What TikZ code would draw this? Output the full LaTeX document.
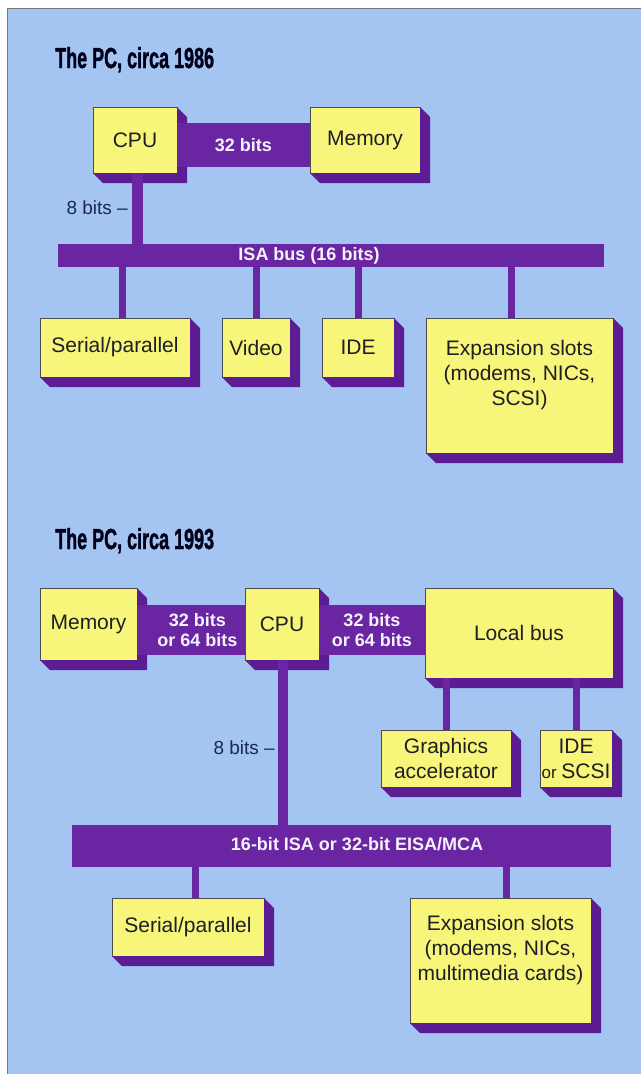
\documentclass[tikz,border=0pt]{standalone}
\usepackage{fontspec}
\setmainfont{Liberation Sans}
\newfontfamily\titlefont[FakeBold=1.6,UprightFont=* Bold]{Liberation Sans}
\usetikzlibrary{positioning}

\definecolor{panelblue}{RGB}{164,197,242}
\definecolor{chipyellow}{RGB}{248,246,122}
\definecolor{buspurple}{RGB}{106,38,162}
\definecolor{shadepurple}{RGB}{92,28,148}
\definecolor{inkdark}{RGB}{30,30,36}
\definecolor{notenavy}{RGB}{26,40,84}
\definecolor{buslabel}{RGB}{246,242,252}

\newcommand{\pcsize}{\fontsize{21}{25}\selectfont}
\newcommand{\bussize}{\fontsize{18}{20}\selectfont\bfseries}
\newcommand{\pctitle}[1]{\scalebox{0.62}[1]{\fontsize{29}{32}\titlefont #1}}

\begin{document}
\begin{tikzpicture}[x=1pt,y=-1pt,
        chip/.style={draw=inkdark!80,line width=0.6pt,fill=chipyellow,inner sep=0pt,outer sep=0pt,anchor=north west,align=center,font=\pcsize,text=inkdark},
        bus/.style={fill=buspurple,inner sep=0pt,outer sep=0pt,anchor=north west},
        buslbl/.style={font=\bussize,text=buslabel,inner sep=0pt,align=center},
        wire/.style={draw=buspurple,line width=7pt},
        note/.style={font=\fontsize{19}{21}\selectfont,text=notenavy,inner sep=0pt,anchor=east},
        heading/.style={inner sep=0pt,anchor=base west,text=black!90!blue}]
        \useasboundingbox (0,0) rectangle (641,1074);
        \fill[white] (0,0) rectangle (641,1074);
        \fill[panelblue] (7,8) rectangle (641,1074);
        \draw[inkdark!60,line width=1pt] (7,1074) -- (7,8) -- (641,8);

        % circa 1986
        \node[heading] (title86) at (55,68) {\pctitle{The PC, circa 1986}};
        \node[chip,minimum width=84pt,minimum height=66pt] (cpu86) at (93,107) {CPU};
        \node[chip,minimum width=110pt,minimum height=66pt] (mem86) at (310,107) {Memory};
        \node[bus,minimum width=546pt,minimum height=23pt] (isa) at (58,244) {};
        \node[buslbl] (isalbl) at (309,255.5) {ISA bus (16 bits)};
        \node[chip,minimum width=150pt,minimum height=59pt] (serial86) at (40,318) {Serial/parallel};
        \node[chip,minimum width=68pt,minimum height=59pt] (video86) at (222,318) {Video};
        \node[chip,minimum width=72pt,minimum height=59pt] (ide86) at (322,318) {IDE};
        \node[chip,minimum width=187pt,minimum height=135pt] (exp86) at (426,318) {Expansion slots\\(modems, NICs,\\SCSI)\\\mbox{}};

        % circa 1993
        \node[heading] (title93) at (55,549) {\pctitle{The PC, circa 1993}};
        \node[chip,minimum width=97pt,minimum height=72pt] (mem93) at (40,588) {Memory};
        \node[chip,minimum width=74pt,minimum height=72pt] (cpu93) at (245,588) {CPU};
        \node[chip,minimum width=188pt,minimum height=90pt] (local93) at (425,588) {Local bus};
        \node[chip,minimum width=130pt,minimum height=57pt] (gfx93) at (381,730) {Graphics\\accelerator};
        \node[chip,minimum width=72pt,minimum height=57pt] (ide93) at (540,730) {IDE\\{\fontsize{17}{25}\selectfont or }SCSI};
        \node[bus,minimum width=539pt,minimum height=42pt] (eisa) at (72,825) {};
        \node[buslbl] (eisalbl) at (357,844) {16-bit ISA or 32-bit EISA/MCA};
        \node[chip,minimum width=152pt,minimum height=58pt] (serial93) at (112,898) {Serial/parallel};
        \node[chip,minimum width=181pt,minimum height=125pt] (exp93) at (410,898) {Expansion slots\\(modems, NICs,\\multimedia cards)\\\mbox{}};

        % 3-D edges
        \foreach \n in {cpu86,mem86,serial86,video86,ide86,exp86,mem93,cpu93,local93,gfx93,ide93,serial93,exp93}
            \fill[shadepurple] (\n.north east) -- ++(10,10) |- ([shift={(10,10)}]\n.south west) -- (\n.south west) -- (\n.south east) -- cycle;

        % data paths
        \draw[buspurple,line width=44pt] ([yshift=-5pt]cpu86.east) -- ([yshift=-5pt]mem86.west) node[midway,buslbl] (bits86) {32 bits};
        \draw[buspurple,line width=11pt] ([xshift=2.5pt]cpu86.south) -- ([xshift=2.5pt]cpu86.south |- isa.north);
        \node[note] (cpubits86) at (128,208) {8 bits –};
        \foreach \n/\dx in {serial86/7,video86/0,ide86/0,exp86/-8}
            \draw[wire] ([xshift=\dx pt]\n.north) -- ([xshift=\dx pt]\n.north |- isa.south);

        \draw[buspurple,line width=50pt] ([yshift=-6pt]mem93.east) -- ([yshift=-6pt]cpu93.west) node[pos=0.56,buslbl] (membits93) {32 bits\\or 64 bits};
        \draw[buspurple,line width=50pt] ([yshift=-6pt]cpu93.east) -- ([yshift=3pt]local93.west) node[midway,buslbl] (localbits93) {32 bits\\or 64 bits};
        \draw[buspurple,line width=10pt] ([xshift=1pt]cpu93.south) -- ([xshift=1pt]cpu93.south |- eisa.north);
        \node[note] (cpubits93) at (275,748) {8 bits –};
        \foreach \n in {gfx93,ide93}
            \draw[wire] (\n.north) -- (\n.north |- local93.south);
        \foreach \n/\dx in {serial93/7,exp93/6}
            \draw[wire] ([xshift=\dx pt]\n.north) -- ([xshift=\dx pt]\n.north |- eisa.south);
    \end{tikzpicture}
\end{document}
